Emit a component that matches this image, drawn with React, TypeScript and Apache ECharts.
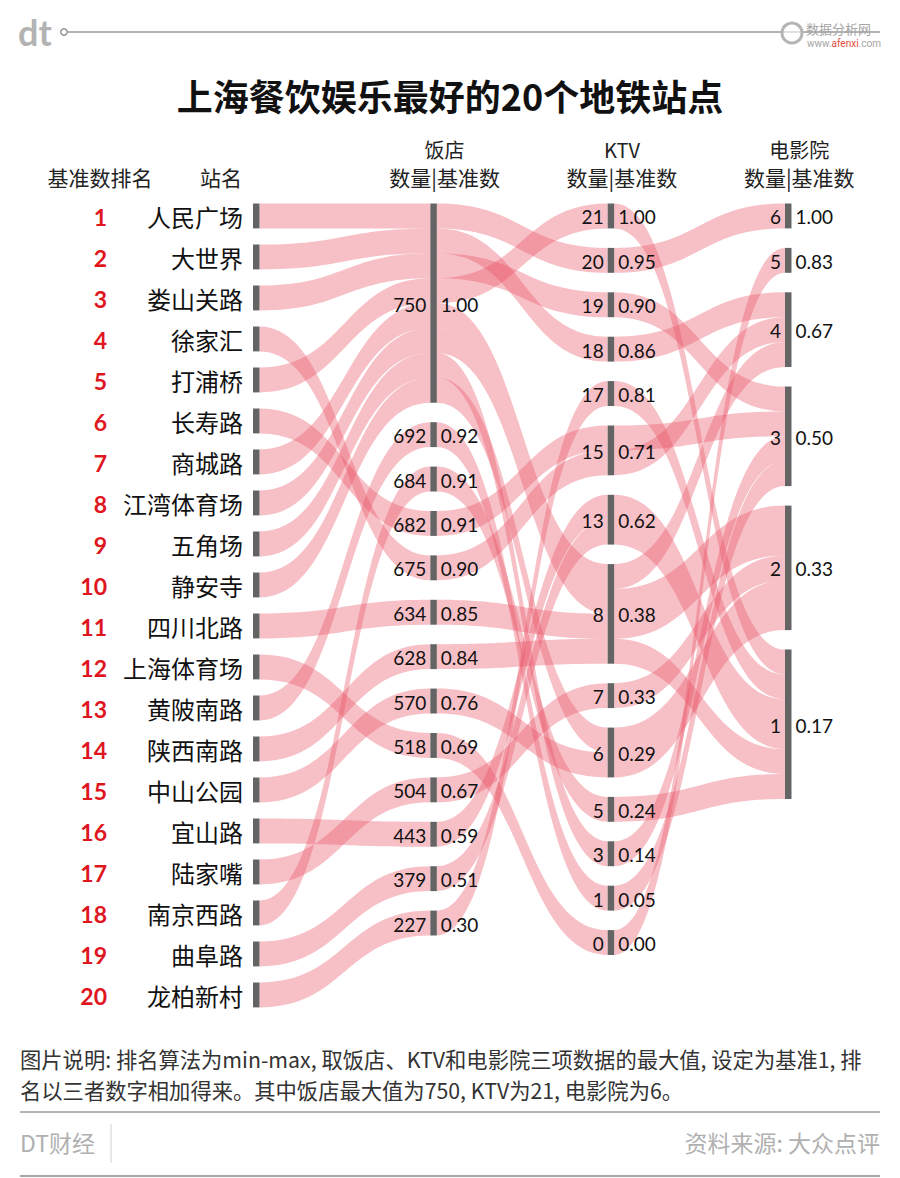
import React, { useEffect, useRef } from 'react';
import * as echarts from 'echarts';

// ---------- data ----------
const stations = ['人民广场', '大世界', '娄山关路', '徐家汇', '打浦桥', '长寿路', '商城路', '江湾体育场', '五角场', '静安寺',
  '四川北路', '上海体育场', '黄陂南路', '陕西南路', '中山公园', '宜山路', '陆家嘴', '南京西路', '曲阜路', '龙柏新村'];
const ranks = [1, 2, 3, 4, 5, 6, 7, 8, 9, 10, 11, 12, 13, 14, 15, 16, 17, 18, 19, 20];
const restaurants = [750, 750, 750, 675, 750, 682, 750, 750, 750, 750, 634, 518, 692, 628, 570, 443, 504, 684, 379, 227];
const ktvs = [20, 18, 19, 15, 21, 15, 8, 8, 3, 6, 8, 0, 1, 8, 6, 13, 7, 5, 13, 17];
const cinemas = [6, 4, 3, 4, 1, 3, 4, 2, 3, 2, 2, 5, 3, 1, 2, 1, 2, 1, 1, 1];
const columnTitles = ['饭店', 'KTV', '电影院'];
const columnSubtitle = '数量|基准数';
const title = '上海餐饮娱乐最好的20个地铁站点';
const noteLines = [
  '图片说明: 排名算法为min-max, 取饭店、KTV和电影院三项数据的最大值, 设定为基准1, 排',
  '名以三者数字相加得来。其中饭店最大值为750, KTV为21, 电影院为6。',
];
const sourceText = '资料来源: 大众点评';
const brandText = 'DT财经';

// ---------- layout constants ----------
const UNIT_PX = 24.9;      // thickness of one station band
const STEP_PX = 41;        // row step of the station column
const GAP_PX = 19.5;       // gap between nodes in value columns
const TOP_PX = 203.5;
const COL0_X = 253;
const COL3_X = 785;
const NODE_W = 6.5;
const Y_MAX = 33;
const STEP_U = STEP_PX / UNIT_PX;
const GAP_U = GAP_PX / UNIT_PX;

const CJK = '"Noto Sans CJK SC", "Noto Sans", sans-serif';
const NUM = 'Lato, "Noto Sans", sans-serif';
const RED = '#e0161e';
const NODE_COLOR = '#646464';
const LINK_COLOR = 'rgba(234, 80, 100, 0.36)';

type NodeInfo = { col: number; y: number; h: number; left: string; right: string; rank?: string };

function buildLayout() {
  const cols = [restaurants, ktvs, cinemas];
  const positions: number[][] = [stations.map((_, i) => i * STEP_U)];
  const nodes: NodeInfo[] = stations.map((s, i) => ({ col: 0, y: i * STEP_U, h: 1, left: s, right: '', rank: String(ranks[i]) }));
  cols.forEach((vals, ci) => {
    const prev = positions[ci];
    const max = Math.max(...vals);
    const distinct = Array.from(new Set(vals)).sort((a, b) => b - a);
    const pos: number[] = new Array(vals.length).fill(0);
    let y = 0;
    distinct.forEach((v) => {
      const members = vals.map((x, i) => (x === v ? i : -1)).filter((i) => i >= 0).sort((a, b) => prev[a] - prev[b]);
      members.forEach((s, j) => { pos[s] = y + j; });
      nodes.push({ col: ci + 1, y, h: members.length, left: String(v), right: (v / max).toFixed(2) });
      y += members.length + GAP_U;
    });
    positions.push(pos);
  });
  const links: number[][] = [];
  stations.forEach((_, s) => {
    for (let c = 0; c < 3; c++) links.push([c, positions[c][s], c + 1, positions[c + 1][s]]);
  });
  return { nodes, links };
}

function txt(text: string, x: number, y: number, align: string, size: number, fill: string, family: string, weight: string = 'normal', extra: any = {}) {
  return {
    type: 'text', x, y, silent: true,
    style: {
      text, fill, fontSize: size, fontFamily: family, fontWeight: weight,
      align, textAlign: align, verticalAlign: 'middle', textVerticalAlign: 'middle', ...extra,
    },
  };
}

export default function App() {
  const ref = useRef<HTMLDivElement>(null);
  useEffect(() => {
    if (!ref.current) return;
    const chart = echarts.init(ref.current, undefined, { renderer: 'svg' });
    const { nodes, links } = buildLayout();

    const renderLink = (params: any, api: any) => {
      const p0 = api.coord([api.value(0), api.value(1)]);
      const p1 = api.coord([api.value(2), api.value(3)]);
      const h = api.size([0, 1])[1];
      const xs = p0[0] + NODE_W;
      const xe = p1[0];
      const xm = (xs + xe) / 2;
      const ys = p0[1];
      const ye = p1[1];
      const d = `M${xs},${ys}C${xm},${ys} ${xm},${ye} ${xe},${ye}L${xe},${ye + h}C${xm},${ye + h} ${xm},${ys + h} ${xs},${ys + h}Z`;
      return { type: 'path', shape: { pathData: d }, style: { fill: LINK_COLOR } };
    };

    const renderNode = (params: any, api: any) => {
      const n = nodes[params.dataIndex];
      const p = api.coord([api.value(0), api.value(1)]);
      const hpx = api.size([0, api.value(2)])[1];
      const cy = p[1] + hpx / 2;
      const children: any[] = [
        { type: 'rect', shape: { x: p[0], y: p[1], width: NODE_W, height: hpx }, style: { fill: NODE_COLOR } },
      ];
      if (n.col === 0) {
        children.push(txt(n.left, p[0] - 10, cy + 1, 'right', 24, '#111', CJK));
        children.push(txt(n.rank || '', p[0] - 146, cy + 1, 'right', 23, RED, NUM, 'bold'));
      } else {
        children.push(txt(n.left, p[0] - 4, cy + 1, 'right', 19, '#111', NUM));
        children.push(txt(n.right, p[0] + NODE_W + 4, cy + 1, 'left', 19, '#111', NUM));
      }
      return { type: 'group', children };
    };

    const colX = [COL0_X, COL0_X + (COL3_X - COL0_X) / 3, COL0_X + 2 * (COL3_X - COL0_X) / 3, COL3_X];
    const graphic: any[] = [
      // header decoration
      txt('dt', 18, 32, 'left', 36, '#b3b3b3', 'Lato, sans-serif', 'bold'),
      { type: 'line', shape: { x1: 64, y1: 32, x2: 880, y2: 32 }, style: { stroke: '#9a9a9a', lineWidth: 1.5 } },
      { type: 'circle', shape: { cx: 64, cy: 32, r: 3.2 }, style: { fill: '#fff', stroke: '#9a9a9a', lineWidth: 1.5 } },
      { type: 'circle', shape: { cx: 792, cy: 33, r: 10 }, style: { fill: 'rgba(255,255,255,0.6)', stroke: '#b5b5b5', lineWidth: 3 } },
      txt('数据分析网', 806, 28, 'left', 13, '#a5a5a5', CJK),
      txt('www.{r|afenxi}.com', 807, 43, 'left', 10, '#a5a5a5', 'Roboto, sans-serif', 'normal', { rich: { r: { fill: '#e24a3b', fontSize: 10, fontFamily: 'Roboto, sans-serif' } } }),
      // title
      txt(title, 450, 95, 'center', 36, '#111', CJK, 'bold'),
      // column headers
      txt('基准数排名', 100, 177, 'center', 21, '#222', CJK),
      txt('站名', 221, 177, 'center', 21, '#222', CJK),
      // footer
      txt(noteLines[0], 20, 1058, 'left', 21.3, '#333', CJK),
      txt(noteLines[1], 20, 1089, 'left', 21.3, '#333', CJK),
      { type: 'line', shape: { x1: 20, y1: 1112, x2: 880, y2: 1112 }, style: { stroke: '#6a6a6a', lineWidth: 1 } },
      txt(brandText, 20, 1142, 'left', 23, '#b0b0b0', CJK),
      { type: 'line', shape: { x1: 111, y1: 1124, x2: 111, y2: 1163 }, style: { stroke: '#d0d0d0', lineWidth: 1 } },
      txt(sourceText, 880, 1142, 'right', 23, '#b0b0b0', CJK),
      { type: 'line', shape: { x1: 20, y1: 1176, x2: 880, y2: 1176 }, style: { stroke: '#8a8a8a', lineWidth: 1.5 } },
    ];
    columnTitles.forEach((t, i) => {
      const cx = colX[i + 1] + NODE_W / 2 + 11;
      graphic.push(txt(t, cx, 149, 'center', 20, '#222', CJK));
      graphic.push(txt(columnSubtitle, cx, 177, 'center', 21, '#222', CJK));
    });

    chart.setOption({
      animation: false,
      backgroundColor: '#ffffff',
      grid: { left: COL0_X, top: TOP_PX, width: COL3_X - COL0_X, height: Y_MAX * UNIT_PX },
      xAxis: { type: 'value', min: 0, max: 3, show: false },
      yAxis: { type: 'value', min: 0, max: Y_MAX, inverse: true, show: false },
      series: [
        { type: 'custom', data: links, renderItem: renderLink, clip: false, silent: true, z: 1 },
        { type: 'custom', data: nodes.map((n) => [n.col, n.y, n.h]), renderItem: renderNode, clip: false, silent: true, z: 2 },
      ],
      graphic: { elements: graphic },
    });
    return () => chart.dispose();
  }, []);
  return <div ref={ref} style={{ position: 'absolute', left: 0, top: 0, width: 900, height: 1178 }} />;
}
